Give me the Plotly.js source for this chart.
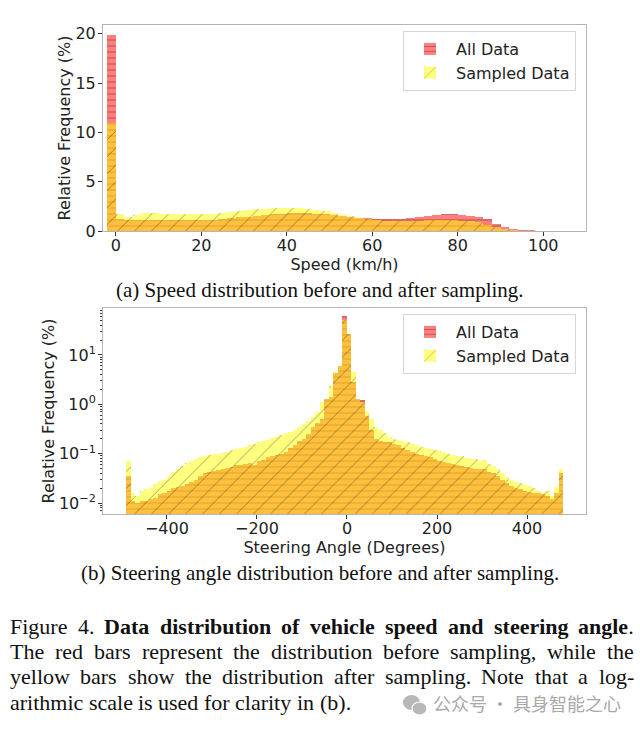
<!DOCTYPE html>
<html>
<head>
<meta charset="utf-8">
<script src="https://cdn.plot.ly/plotly-3.0.1.min.js"></script>
<style>
html,body{margin:0;padding:0;background:#fff;}
#chart{width:640px;height:734px;}
</style>
</head>
<body>
<div id="chart"></div>
<script>
// ---------- Speed distribution (bin centers, km/h; bin width 2) ----------
const speedCenters = [-1,1,3,5,7,9,11,13,15,17,19,21,23,25,27,29,31,33,35,37,39,41,43,45,47,49,51,53,55,57,59,61,63,65,67,69,71,73,75,77,79,81,83,85,87,89,91,93,95,97,99,101,103,105,107];
const speedAll = [19.9,1.2,1.1,1.1,1.1,1.1,1.1,1.1,1.1,1.1,1.1,1.1,1.15,1.2,1.3,1.4,1.45,1.5,1.6,1.7,1.75,1.8,1.8,1.8,1.75,1.7,1.6,1.5,1.4,1.35,1.3,1.25,1.2,1.2,1.25,1.35,1.45,1.55,1.65,1.7,1.7,1.65,1.55,1.45,1.2,0.75,0.4,0.2,0.1,0.06,0.05,0.04,0.04,0.04,0.03];
const speedSampled = [11.0,1.7,1.4,1.6,1.8,1.8,1.75,1.7,1.7,1.7,1.7,1.7,1.75,1.8,1.9,2.0,2.1,2.2,2.25,2.3,2.3,2.3,2.3,2.25,2.15,2.0,1.85,1.65,1.5,1.3,1.2,1.1,1.05,1.0,1.0,1.0,1.05,1.1,1.1,1.1,1.1,1.05,1.0,0.9,0.6,0.4,0.2,0.1,0.05,0.03,0.02,0.02,0.01,0.01,0.01];
const speedTicks = [0,20,40,60,80,100];
const speedYTicks = [0,5,10,15,20];

// ---------- Steering angle distribution (bin centers, degrees; bin width 10) ----------
const steerCenters = [-485,-475,-465,-455,-445,-435,-425,-415,-405,-395,-385,-375,-365,-355,-345,-335,-325,-315,-305,-295,-285,-275,-265,-255,-245,-235,-225,-215,-205,-195,-185,-175,-165,-155,-145,-135,-125,-115,-105,-95,-85,-75,-65,-55,-45,-35,-25,-15,-5,5,15,25,35,45,55,65,75,85,95,105,115,125,135,145,155,165,175,185,195,205,215,225,235,245,255,265,275,285,295,305,315,325,335,345,355,365,375,385,395,405,415,425,435,445,455,465,475];
const steerAll = [0.035,0.011,0.010,0.011,0.011,0.012,0.013,0.015,0.016,0.018,0.020,0.021,0.022,0.024,0.027,0.030,0.035,0.040,0.042,0.044,0.046,0.050,0.052,0.055,0.058,0.060,0.062,0.065,0.058,0.070,0.075,0.085,0.090,0.095,0.100,0.110,0.130,0.150,0.180,0.200,0.250,0.350,0.420,0.500,1.30,1.40,4.4,6.0,62,26,2.8,1.3,1.2,0.58,0.30,0.20,0.18,0.17,0.17,0.16,0.15,0.13,0.12,0.11,0.10,0.095,0.090,0.085,0.077,0.070,0.068,0.065,0.062,0.060,0.056,0.054,0.052,0.050,0.048,0.050,0.042,0.040,0.035,0.030,0.026,0.022,0.020,0.019,0.018,0.017,0.016,0.016,0.015,0.014,0.012,0.016,0.040];
const steerSampled = [0.070,0.016,0.014,0.018,0.019,0.020,0.024,0.028,0.030,0.035,0.042,0.050,0.056,0.065,0.070,0.078,0.085,0.090,0.095,0.100,0.100,0.105,0.110,0.120,0.125,0.130,0.140,0.150,0.160,0.170,0.180,0.190,0.210,0.220,0.240,0.260,0.280,0.300,0.340,0.400,0.450,0.550,0.700,1.10,1.30,2.30,4.5,6.0,50,26,4.5,1.3,1.1,0.75,0.50,0.35,0.30,0.26,0.22,0.20,0.19,0.18,0.17,0.16,0.15,0.14,0.13,0.125,0.12,0.115,0.11,0.10,0.095,0.090,0.088,0.082,0.080,0.078,0.072,0.075,0.062,0.056,0.048,0.040,0.034,0.030,0.027,0.025,0.023,0.022,0.020,0.018,0.016,0.018,0.014,0.021,0.050];
const steerTicks = [-400,-200,0,200,400];
const steerYTicks = [0.01,0.1,1,10];
const steerYTickText = ['10<sup>\u22122</sup>','10<sup>\u22121</sup>','10<sup>0</sup>','10<sup>1</sup>'];

const seriesNames = ['All Data','Sampled Data'];

// caption text (each entry: [text, bold, trailing-normal-text])
const captionLines = [
  [['Figure',false],['4.',false],['Data',true],['distribution',true],['of',true],['vehicle',true],['speed',true],['and',true],['steering',true],['angle',true,'.']],
  [['The red bars represent the distribution before sampling, while the',false]],
  [['yellow bars show the distribution after sampling. Note that a log-',false]],
  [['arithmic scale is used for clarity in (b).',false]]
];
const subCaptionA = '(a) Speed distribution before and after sampling.';
const subCaptionB = '(b) Steering angle distribution before and after sampling.';
const watermark = '公众号 · 具身智能之心';

// ---------- styles ----------
const F = 'DejaVu Sans, Arial, sans-serif';
const SERIF = 'Liberation Serif, Times New Roman, serif';
const RED = 'rgba(255,0,0,0.5)';
const YEL = 'rgba(255,255,0,0.5)';
const redPattern = {shape:'-', fillmode:'overlay', bgcolor:RED, fgcolor:'rgba(60,0,0,0.75)', size:6, solidity:0.17};
const yelPattern = {shape:'/', fillmode:'overlay', bgcolor:YEL, fgcolor:'rgba(0,0,0,0.7)', size:12, solidity:0.08};

function bars(x, y, name, width, pattern, xa, ya, legend) {
  return {type:'bar', x:x, y:y, name:name, width:width, xaxis:xa, yaxis:ya,
    legend:legend, showlegend:true,
    marker:{color: pattern.bgcolor, line:{width:0}, pattern:pattern}};
}

const data = [
  bars(speedCenters, speedAll, seriesNames[0], 2, redPattern, 'x', 'y', 'legend'),
  bars(speedCenters, speedSampled, seriesNames[1], 2, yelPattern, 'x', 'y', 'legend'),
  bars(steerCenters, steerAll, seriesNames[0], 10, redPattern, 'x2', 'y2', 'legend2'),
  bars(steerCenters, steerSampled, seriesNames[1], 10, yelPattern, 'x2', 'y2', 'legend2')
];

const minorLog = [];
[0.001,0.01,0.1,1,10].forEach(d => { for (let k=2;k<=9;k++) minorLog.push(d*k); });

const axBase = {showline:true, mirror:true, linecolor:'#b5b5b5', linewidth:1, showgrid:false,
  zeroline:false, ticks:'outside', ticklen:4, tickcolor:'#333', tickwidth:1,
  tickfont:{family:F, size:16, color:'#222'}, automargin:false};

const W = 640, H = 734;
const px = v => v/W;
const py = v => 1 - v/H;

// ---------- justified caption built from measured words ----------
const CAP_SIZE = 22;
const cv = document.createElement('canvas').getContext('2d');
function measure(t, bold) {
  cv.font = (bold ? 'bold ' : '') + CAP_SIZE + 'px "Liberation Serif"';
  return cv.measureText(t).width;
}
const capAnn = [];
const capY = [626, 651, 676, 702];
const L = 8, R = 632;
captionLines.forEach((line, li) => {
  let tokens = [];
  line.forEach(seg => {
    const words = seg[0].split(' ');
    words.forEach((w, wi) => {
      const tail = (wi === words.length - 1 && seg[2]) ? seg[2] : '';
      const html = (seg[1] ? '<b>' + w + '</b>' : w) + tail;
      tokens.push({html: html, w: measure(w, seg[1]) + (tail ? measure(tail, false) : 0)});
    });
  });
  const total = tokens.reduce((a, t) => a + t.w, 0);
  const justify = li < captionLines.length - 1;
  const gap = justify ? (R - L - total) / (tokens.length - 1) : measure(' ', false);
  let x = L;
  tokens.forEach(t => {
    capAnn.push({text: t.html, xref:'paper', yref:'paper', x: px(x), y: py(capY[li]),
      xanchor:'left', yanchor:'middle', showarrow:false,
      font:{family:SERIF, size:CAP_SIZE, color:'#111'}});
    x += t.w + gap;
  });
});

const layout = {
  width:W, height:H, margin:{l:0,r:0,t:0,b:0},
  paper_bgcolor:'#fff', plot_bgcolor:'#fff',
  barmode:'overlay', bargap:0, showlegend:true,
  font:{family:F, color:'#222'},
  xaxis: Object.assign({}, axBase, {domain:[px(103), px(586)], anchor:'y', range:[-3,110],
    tickmode:'array', tickvals:speedTicks, ticklabelstandoff:-4,
    title:{text:'Speed (km/h)', font:{family:F,size:16,color:'#222'}, standoff:0}}),
  yaxis: Object.assign({}, axBase, {domain:[py(231), py(25)], anchor:'x', range:[0,20.9],
    tickmode:'array', tickvals:speedYTicks, ticklabelstandoff:-1,
    title:{text:'Relative Frequency (%)', font:{family:F,size:16,color:'#222'}, standoff:0}}),
  xaxis2: Object.assign({}, axBase, {domain:[px(103), px(586)], anchor:'y2', range:[-542,531],
    tickmode:'array', tickvals:steerTicks, ticklabelstandoff:-4,
    title:{text:'Steering Angle (Degrees)', font:{family:F,size:16,color:'#222'}, standoff:0}}),
  yaxis2: Object.assign({}, axBase, {domain:[py(514), py(308)], anchor:'x2', type:'log', range:[-2.22,1.95],
    tickmode:'array', tickvals:steerYTicks, ticktext:steerYTickText, ticklabelstandoff:-1,
    minor:{tickmode:'array', tickvals:minorLog, ticks:'outside', ticklen:2, tickcolor:'#333', showgrid:false},
    title:{text:'Relative Frequency (%)', font:{family:F,size:16,color:'#222'}, standoff:0}}),
  legend:{x:px(403), y:py(31), xanchor:'left', yanchor:'top', bgcolor:'rgba(255,255,255,0.85)',
    bordercolor:'#d6d6d6', borderwidth:1, font:{family:F,size:16,color:'#222'}, tracegroupgap:0, itemwidth:42},
  legend2:{x:px(403), y:py(314), xanchor:'left', yanchor:'top', bgcolor:'rgba(255,255,255,0.85)',
    bordercolor:'#d6d6d6', borderwidth:1, font:{family:F,size:16,color:'#222'}, tracegroupgap:0, itemwidth:42},
  shapes:[
    {type:'circle', xref:'paper', yref:'paper', x0:px(403), x1:px(420), y0:py(710), y1:py(695),
     fillcolor:'#b8b8b8', line:{width:0}},
    {type:'circle', xref:'paper', yref:'paper', x0:px(412), x1:px(427), y0:py(715), y1:py(702),
     fillcolor:'#b8b8b8', line:{width:1.2, color:'#ffffff'}}
  ],
  annotations:[
    {text:subCaptionA, xref:'paper', yref:'paper',
     x:0.5, y:py(290), xanchor:'center', yanchor:'middle', showarrow:false,
     font:{family:SERIF, size:21, color:'#111'}},
    {text:subCaptionB, xref:'paper', yref:'paper',
     x:0.5, y:py(573), xanchor:'center', yanchor:'middle', showarrow:false,
     font:{family:SERIF, size:21, color:'#111'}},
    {text:watermark, xref:'paper', yref:'paper',
     x:px(431), y:py(703), xanchor:'left', yanchor:'middle', showarrow:false,
     font:{family:'Noto Sans CJK SC, sans-serif', size:18, color:'#a8a8a8'}}
  ].concat(capAnn)
};

Plotly.newPlot('chart', data, layout, {staticPlot:true, displayModeBar:false});
</script>
</body>
</html>
